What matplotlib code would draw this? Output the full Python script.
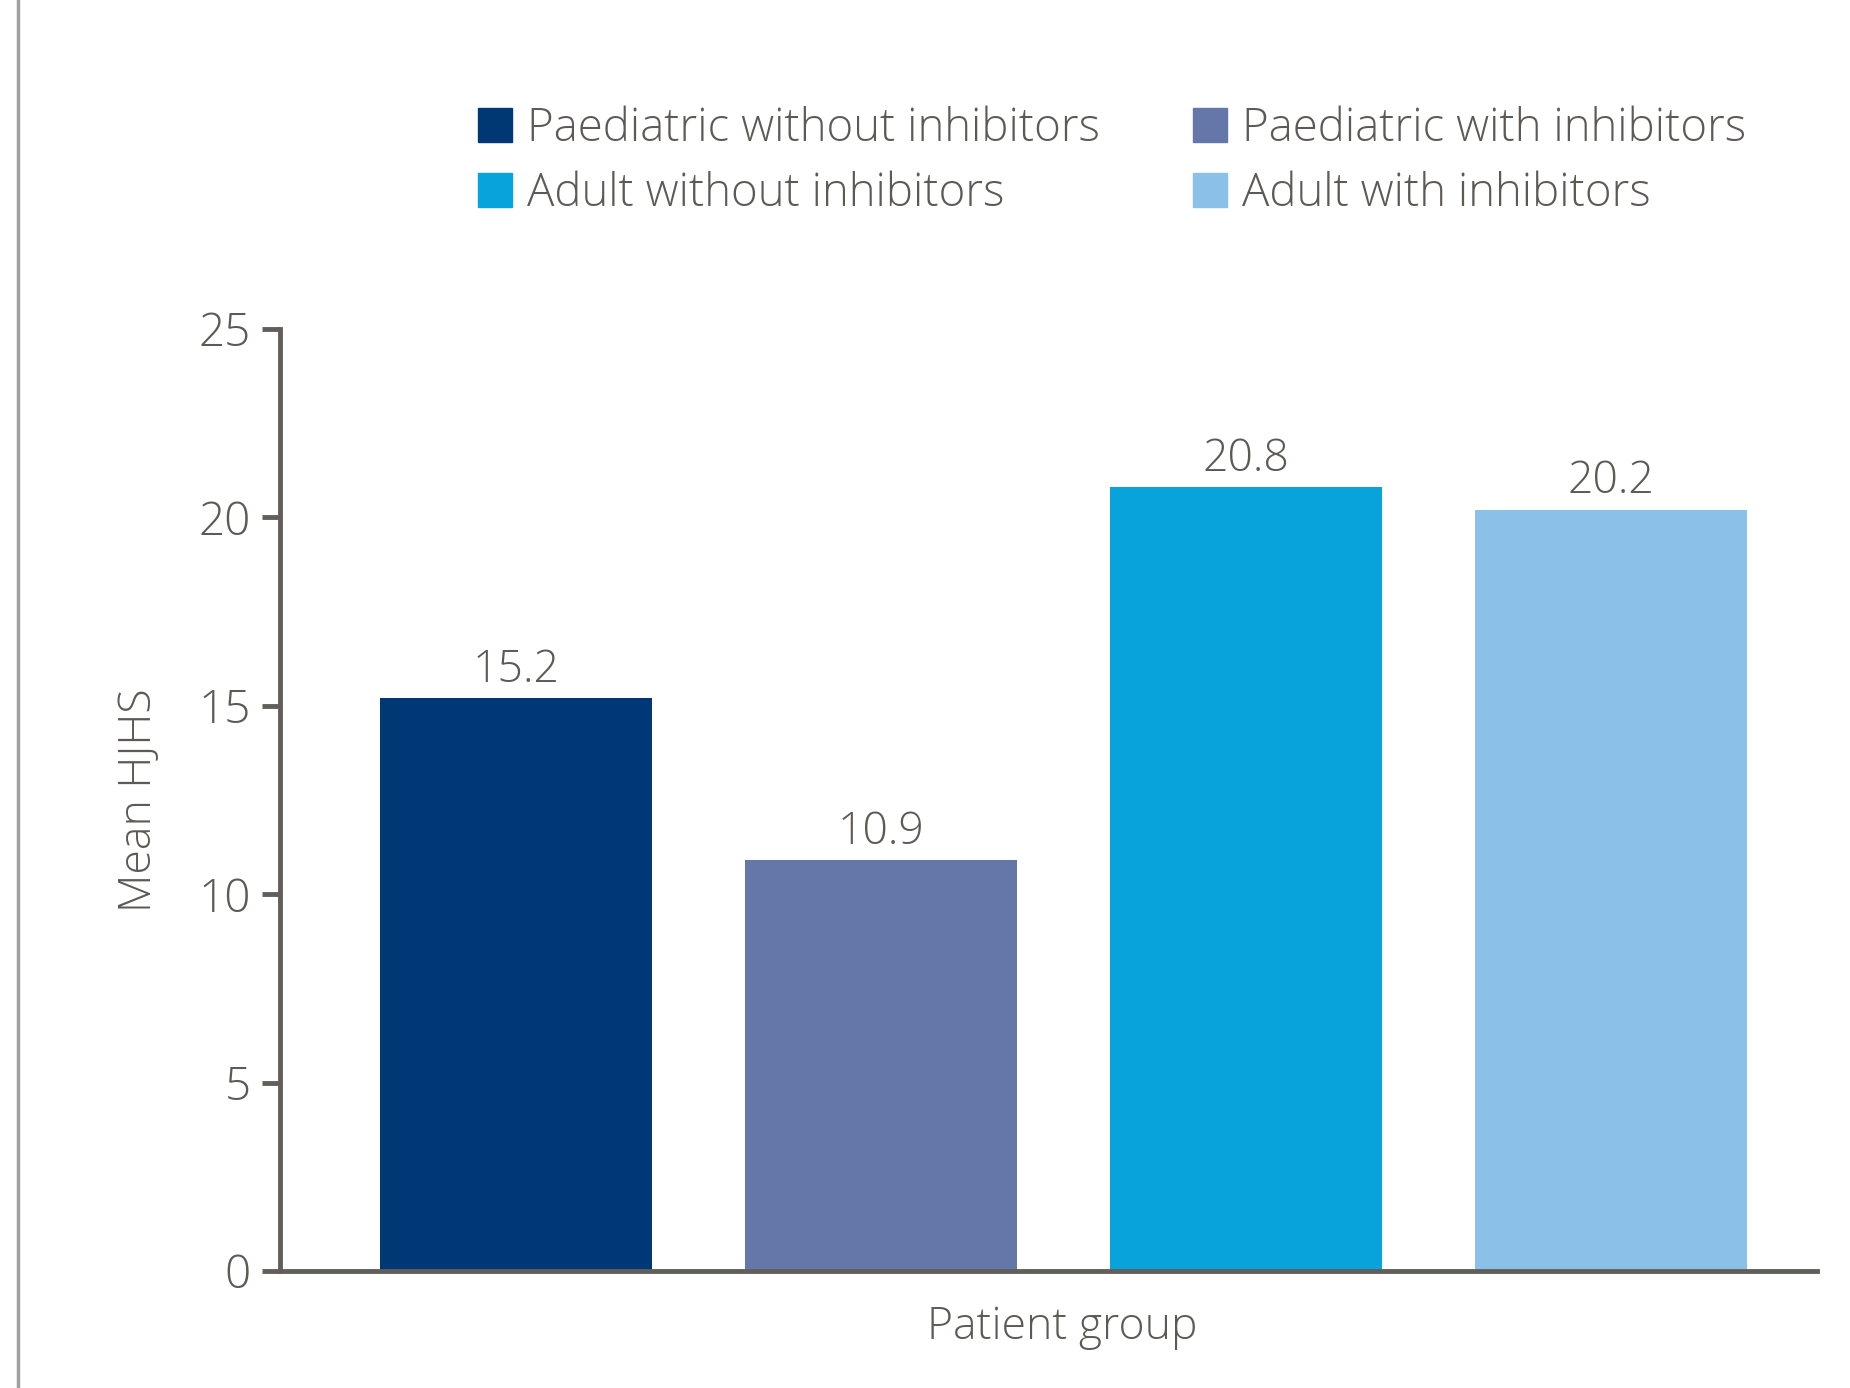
import matplotlib
matplotlib.use("Agg")
import matplotlib.pyplot as plt
from matplotlib.lines import Line2D

# Mean HJHS per patient group
groups = [
    "Paediatric without inhibitors",
    "Paediatric with inhibitors",
    "Adult without inhibitors",
    "Adult with inhibitors",
]
mean_hjhs = [15.2, 10.9, 20.8, 20.2]
colors = ["#003876", "#6576a8", "#09a3dc", "#8bc0e8"]
y_ticks = [0, 5, 10, 15, 20, 25]

TEXT = "#5d5a56"
AXIS = "#625f5b"
FONT = "Open Sans"
W = "light"

plt.rcParams["font.family"] = [FONT, "DejaVu Sans"]
plt.rcParams["font.weight"] = W

fig = plt.figure(figsize=(18.5, 13.88), dpi=100)
ax = fig.add_axes([280 / 1850, 1 - 1271 / 1388, (1817 - 280) / 1850, (1271 - 329) / 1388])

x = range(len(groups))
bars = ax.bar(x, mean_hjhs, width=0.745, color=colors, zorder=2)
for b, v in zip(bars, mean_hjhs):
    ax.annotate(f"{v:.1f}", (b.get_x() + b.get_width() / 2, v),
                xytext=(0, 4), textcoords="offset points",
                ha="center", va="bottom", fontsize=32, color=TEXT,
                fontweight=W)

ax.set_xlim(-0.647, 3.564)
ax.set_ylim(0, 25)
ax.set_yticks(y_ticks)
ax.set_xticks([])
ax.tick_params(axis="y", length=13, width=3.5, color=AXIS, labelsize=33,
               labelcolor=TEXT, pad=8)
for lbl in ax.get_yticklabels():
    lbl.set_fontweight(W)
for side in ("top", "right"):
    ax.spines[side].set_visible(False)
for side in ("left", "bottom"):
    ax.spines[side].set_linewidth(3.5)
    ax.spines[side].set_color(AXIS)

ax.set_ylabel("Mean HJHS", fontsize=32, color=TEXT, labelpad=26, fontweight=W)
fig.text(1062 / 1850, 1 - 1328 / 1388, "Patient group", fontsize=32,
         color=TEXT, ha="center", va="center", fontweight=W)

# legend laid out as two columns above the plot
handles = [Line2D([], [], marker="s", linestyle="none", markersize=25,
                  markerfacecolor=c, markeredgecolor=c) for c in colors]
order = [0, 2, 1, 3]
fig.legend([handles[i] for i in order], [groups[i] for i in order],
           loc="upper left", bbox_to_anchor=(477 / 1850, 1 - 106 / 1388),
           ncol=2, frameon=False, labelcolor=TEXT,
           prop={"family": [FONT, "DejaVu Sans"], "size": 32.9, "weight": W},
           handlelength=0.8, handletextpad=0.3, columnspacing=2.0,
           labelspacing=0.42, borderpad=0, borderaxespad=0)

# grey rule down the left margin
fig.add_artist(Line2D([18 / 1850, 18 / 1850], [0, 1], color="#a0a0a0",
                      lw=2.5, transform=fig.transFigure))

fig.savefig("out.png", dpi=100)
